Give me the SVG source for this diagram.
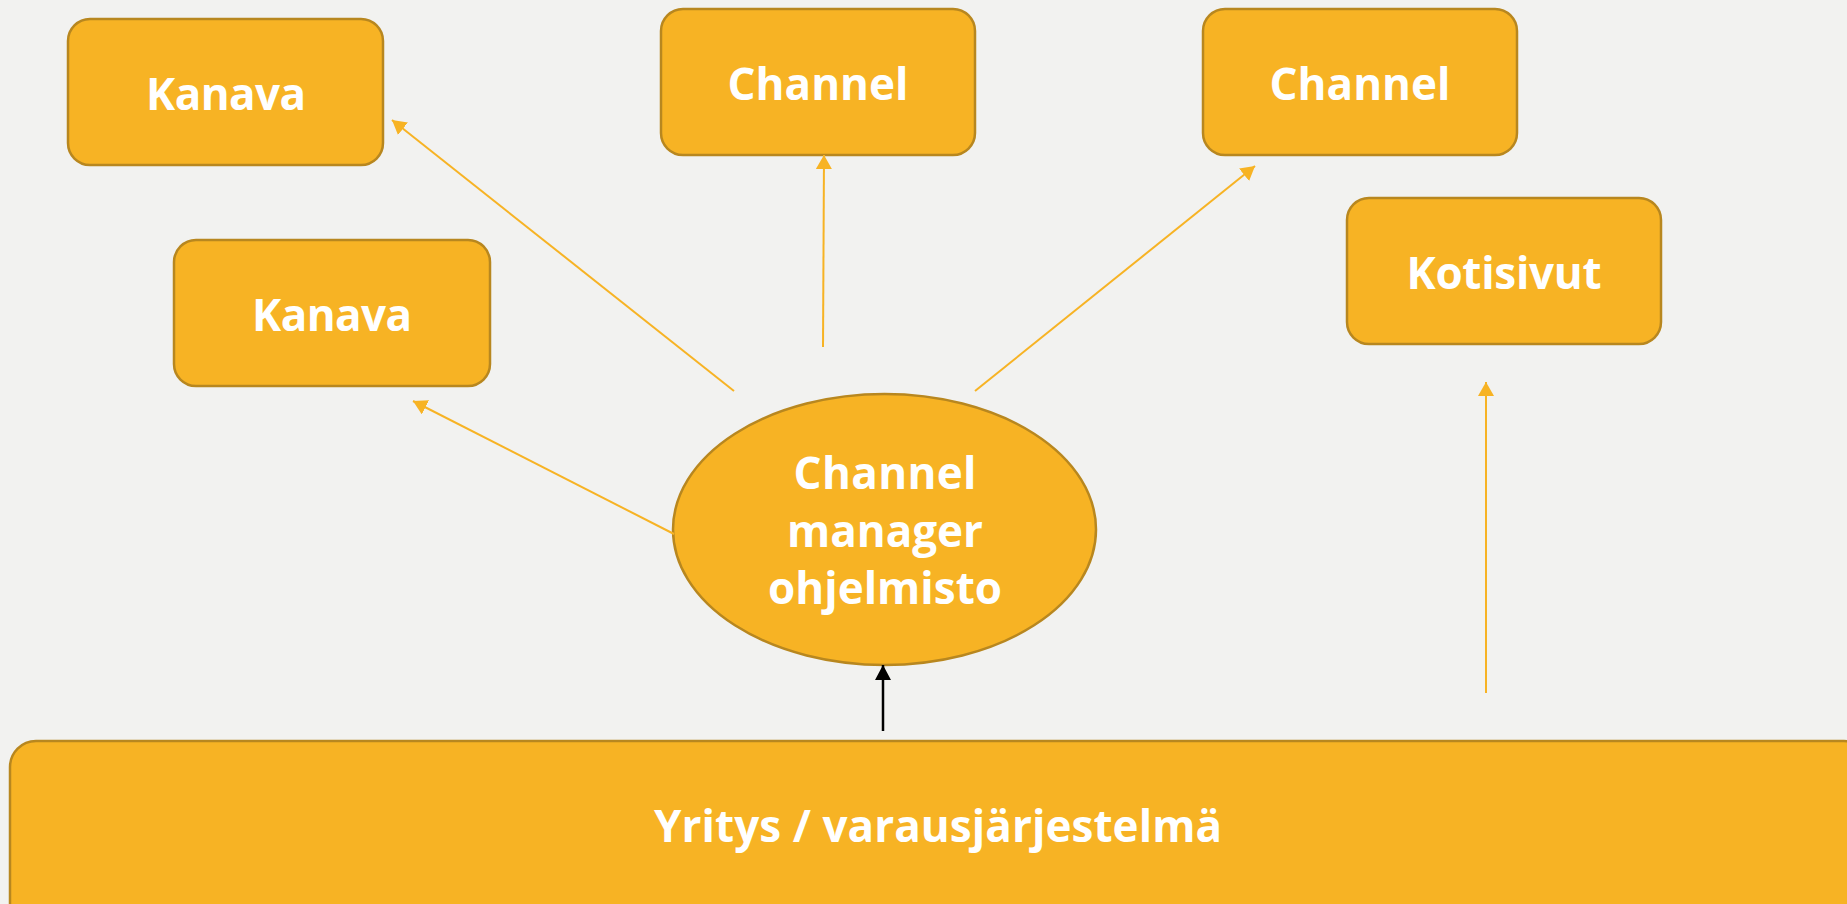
<svg xmlns="http://www.w3.org/2000/svg" width="1847" height="904" viewBox="0 0 1847 904">
  <style>
    .node { fill: #F7B324; stroke: #B8871F; stroke-width: 2.5; }
    .label { font-family: "Open Sans", "Liberation Sans", sans-serif; font-weight: bold; font-size: 44px; fill: #FFFFFF; text-anchor: middle; font-variant-ligatures: none; }
    .conn { fill: none; stroke: #F7B324; stroke-width: 2; }
    .conn-dark { fill: none; stroke: #000000; stroke-width: 2.5; }
  </style>
  <defs>
    <marker id="arrowOrange" viewBox="0 0 14 16" refX="14" refY="8" markerWidth="14" markerHeight="16" markerUnits="userSpaceOnUse" orient="auto">
      <path d="M0,0 L14,8 L0,16 z" fill="#F7B324"/>
    </marker>
    <marker id="arrowBlack" viewBox="0 0 15 16" refX="15" refY="8" markerWidth="15" markerHeight="16" markerUnits="userSpaceOnUse" orient="auto">
      <path d="M0,0 L15,8 L0,16 z" fill="#000000"/>
    </marker>
  </defs>
  <rect x="0" y="0" width="1847" height="904" fill="#F2F2F0"/>

  <g id="node-kanava-1">
    <rect class="node" x="68" y="19" width="315" height="146" rx="22" ry="22"/>
    <text class="label" x="226" y="110" textLength="160">Kanava</text>
  </g>
  <g id="node-channel-1">
    <rect class="node" x="661" y="9" width="314" height="146" rx="22" ry="22"/>
    <text class="label" x="818" y="100" textLength="181">Channel</text>
  </g>
  <g id="node-channel-2">
    <rect class="node" x="1203" y="9" width="314" height="146" rx="22" ry="22"/>
    <text class="label" x="1360" y="100" textLength="181">Channel</text>
  </g>
  <g id="node-kotisivut">
    <rect class="node" x="1347" y="198" width="314" height="146" rx="22" ry="22"/>
    <text class="label" x="1504" y="289" textLength="195">Kotisivut</text>
  </g>
  <g id="node-kanava-2">
    <rect class="node" x="174" y="240" width="316" height="146" rx="22" ry="22"/>
    <text class="label" x="332" y="331" textLength="160">Kanava</text>
  </g>
  <g id="node-channel-manager">
    <ellipse class="node" cx="884.5" cy="529.5" rx="211.5" ry="135.5"/>
    <text class="label" x="885" y="489" textLength="183">Channel</text>
    <text class="label" x="885" y="547" textLength="196">manager</text>
    <text class="label" x="885" y="604" textLength="234">ohjelmisto</text>
  </g>
  <g id="node-yritys">
    <rect class="node" x="10" y="741" width="1860" height="200" rx="26" ry="26"/>
    <text class="label" x="938" y="842" textLength="568">Yritys / varausjärjestelmä</text>
  </g>

  <g id="connectors">
    <line class="conn" x1="734" y1="391" x2="392" y2="120" marker-end="url(#arrowOrange)"/>
    <line class="conn" x1="823" y1="347" x2="824" y2="155" marker-end="url(#arrowOrange)"/>
    <line class="conn" x1="975" y1="391" x2="1255" y2="166" marker-end="url(#arrowOrange)"/>
    <line class="conn" x1="674" y1="534" x2="413" y2="401" marker-end="url(#arrowOrange)"/>
    <line class="conn" x1="1486" y1="693" x2="1486" y2="382" marker-end="url(#arrowOrange)"/>
    <line class="conn-dark" x1="883" y1="731" x2="883" y2="665" marker-end="url(#arrowBlack)"/>
  </g>
</svg>
